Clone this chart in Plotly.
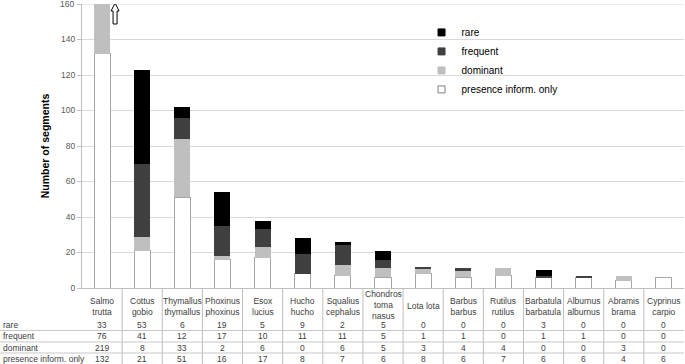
import plotly.graph_objects as go

categories = ["Salmo trutta", "Cottus gobio", "Thymallus thymallus", "Phoxinus phoxinus",
              "Esox lucius", "Hucho hucho", "Squalius cephalus", "Chondrostoma nasus",
              "Lota lota", "Barbus barbus", "Rutilus rutilus", "Barbatula barbatula",
              "Alburnus alburnus", "Abramis brama", "Cyprinus carpio"]
category_labels = ["Salmo<br>trutta", "Cottus<br>gobio", "Thymallus<br>thymallus", "Phoxinus<br>phoxinus",
                   "Esox<br>lucius", "Hucho<br>hucho", "Squalius<br>cephalus", "Chondros<br>toma<br>nasus",
                   "Lota lota", "Barbus<br>barbus", "Rutilus<br>rutilus", "Barbatula<br>barbatula",
                   "Alburnus<br>alburnus", "Abramis<br>brama", "Cyprinus<br>carpio"]
rare = [33, 53, 6, 19, 5, 9, 2, 5, 0, 0, 0, 3, 0, 0, 0]
frequent = [76, 41, 12, 17, 10, 11, 11, 5, 1, 1, 0, 1, 1, 0, 0]
dominant = [219, 8, 33, 2, 6, 0, 6, 5, 3, 4, 4, 0, 0, 3, 0]
presence = [132, 21, 51, 16, 17, 8, 7, 6, 8, 6, 7, 6, 6, 4, 6]
y_ticks = [0, 20, 40, 60, 80, 100, 120, 140, 160]
Y_MAX = 160

series = [
    ("presence inform. only", presence, "#ffffff", "#a6a6a6"),
    ("dominant", dominant, "#bfbfbf", "#bfbfbf"),
    ("frequent", frequent, "#404040", "#404040"),
    ("rare", rare, "#000000", "#000000"),
]

FONT = "Liberation Sans, Arial, sans-serif"
TFS = 8.5
fig = go.Figure()
for name, vals, fill, line in series:
    fig.add_trace(go.Bar(x=categories, y=vals, name=name, marker_color=fill,
                         marker_line_color=line, marker_line_width=1 if fill == "#ffffff" else 0,
                         width=0.4, showlegend=False))
# legend entries with small square symbols
for name, vals, fill, line in series:
    fig.add_trace(go.Scatter(x=[None], y=[None], mode="markers", name=name,
                             marker=dict(symbol="square", size=7, color=fill,
                                         line=dict(color="#7f7f7f" if fill == "#ffffff" else fill, width=1))))

H_PLOT = 284  # plot height in px
annotations = []
# top tick label (plotly drops the label at the very top edge)
annotations.append(dict(x=0, xref="paper", xshift=-6, y=Y_MAX, yref="y", text=str(y_ticks[-1]),
                        showarrow=False, xanchor="right", yanchor="middle",
                        font=dict(family=FONT, size=8.5, color="#595959")))
# table header (category names)
for cat, lab in zip(categories, category_labels):
    nlines = lab.count("<br>") + 1
    annotations.append(dict(x=cat, xref="x", y=0, yref="paper",
                            yshift=-18 + (1.5 if nlines > 2 else 0), text=lab,
                            showarrow=False, yanchor="middle", xanchor="center",
                            font=dict(family=FONT, size=TFS, color="#404040")))
rows = [("rare", rare, -36.5), ("frequent", frequent, -48), ("dominant", dominant, -59.5),
        ("presence inform. only", presence, -70.5)]
for rname, vals, ys in rows:
    annotations.append(dict(x=0, xref="paper", xshift=-81, y=0, yref="paper", yshift=ys,
                            text=rname, showarrow=False, xanchor="left", yanchor="middle",
                            font=dict(family=FONT, size=TFS, color="#404040")))
    for cat, v in zip(categories, vals):
        annotations.append(dict(x=cat, xref="x", y=0, yref="paper", yshift=ys, text=str(v),
                                showarrow=False, xanchor="center", yanchor="middle",
                                font=dict(family=FONT, size=TFS, color="#404040")))

shapes = []
# vertical table lines at category boundaries
for k in range(1, len(categories)):
    shapes.append(dict(type="line", xref="x", yref="paper", x0=k - 0.5, x1=k - 0.5,
                       y0=0, y1=-80 / H_PLOT, line=dict(color="#bfbfbf", width=1)))
# horizontal table lines
for ypx in [42.5, 54, 65]:
    shapes.append(dict(type="line", xref="paper", yref="paper", x0=-82 / 602, x1=1,
                       y0=-ypx / H_PLOT, y1=-ypx / H_PLOT, line=dict(color="#c8c8c8", width=1)))
# outlined arrow marking truncated Salmo trutta bar
shapes.append(dict(type="path", xref="x", yref="y", xsizemode="pixel", ysizemode="pixel",
                   xanchor=categories[0], yanchor=Y_MAX,
                   path="M 13,1 L 17,-7 L 15,-7 L 15,-20 L 11,-20 L 11,-7 L 9,-7 Z",
                   line=dict(color="#000000", width=1), fillcolor="#ffffff"))

fig.update_layout(
    barmode="stack",
    width=685, height=364,
    margin=dict(l=82, r=1, t=4, b=76, autoexpand=False),
    plot_bgcolor="#ffffff", paper_bgcolor="#ffffff",
    font=dict(family=FONT, size=9, color="#595959"),
    bargap=0.6,
    legend=dict(x=0.564, y=0.951, xanchor="left", yanchor="top", traceorder="reversed",
                bgcolor="rgba(0,0,0,0)", font=dict(family=FONT, size=10, color="#000000"),
                itemwidth=30, tracegroupgap=0),
    annotations=annotations,
    shapes=shapes,
)
fig.update_xaxes(showticklabels=False, showline=True, linecolor="#bfbfbf", linewidth=1,
                 showgrid=False, ticks="", range=[-0.5, len(categories) - 0.5], automargin=False)
fig.update_yaxes(range=[0, Y_MAX], tickvals=y_ticks, showgrid=True, gridcolor="#d9d9d9",
                 gridwidth=1, showline=True, linecolor="#bfbfbf", linewidth=1, zeroline=False,
                 ticks="outside", ticklen=4, tickcolor="#bfbfbf", automargin=False,
                 tickfont=dict(family=FONT, size=8.5, color="#595959"),
                 title=dict(text="<b>Number of segments</b>", standoff=9,
                            font=dict(family=FONT, size=10.5, color="#000000")))
fig.add_hline(y=Y_MAX, line=dict(color="#d9d9d9", width=1), layer="below")
fig.write_html("out.html", config={"displayModeBar": False},
               post_script="document.body.style.margin='0';document.body.style.overflow='hidden';")
